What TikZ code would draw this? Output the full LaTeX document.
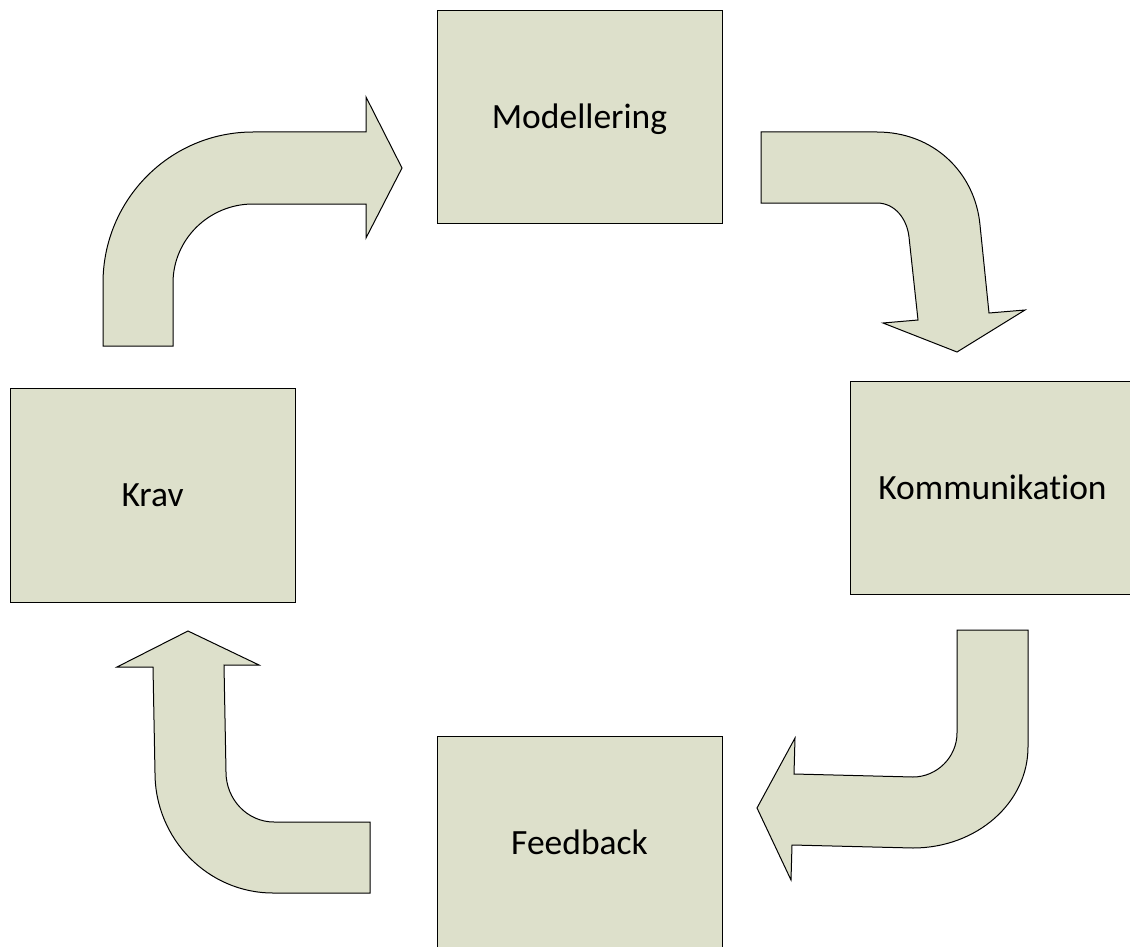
\documentclass[tikz,border=0pt]{standalone}
\usepackage{fontspec}
\setmainfont{Carlito}[Ligatures=NoCommon]
\definecolor{panel}{RGB}{221,224,203}
\begin{document}
\begin{tikzpicture}[x=1pt,y=-1pt,
  box/.style={draw=black, line width=1pt, fill=panel, inner sep=0pt,
              minimum width=285pt, text height=23pt, text depth=0pt,
              font=\fontsize{35.5}{42}\selectfont},
  blockarrow/.style={draw=black, line width=1pt, fill=panel, line join=miter}]
\clip (0,0) rectangle (1130,947);
\fill[white] (0,0) rectangle (1130,947);

% the four stages
\node[box, minimum height=212pt] (mod)  at (579.5,117) {Modellering};
\node[box, minimum height=213pt] (kom)  at (992.5,488) {Kommunikation};
\node[box, minimum height=214pt] (krav) at (152.5,495) {Krav};
\node[box, minimum height=214pt] (feed) at (579.5,843) {Feedback};

% Krav -> Modellering
\path[blockarrow] (103,346) -- (103,283)
  .. controls (103,199.6) and (170,132) .. (253,132)
  -- (366,132) -- (366,97) -- (402,168) -- (366,238) -- (366,204)
  -- (253,204) .. controls (209,204) and (173,239.4) .. (173,283)
  -- (173,346) -- cycle;

% Modellering -> Kommunikation
\path[blockarrow] (761,132) -- (877,132)
  .. controls (933,132) and (975,172) .. (980,225)
  -- (989,313) -- (1025,310) -- (957,352) -- (883,323) -- (918,320)
  -- (909,237) .. controls (907,219) and (895,203) .. (877,203)
  -- (761,203) -- cycle;

% Kommunikation -> Feedback
\path[blockarrow] (957,630) -- (1028,630) -- (1028,747)
  .. controls (1028,803) and (976.5,848) .. (913,848)
  -- (792,845) -- (791,880) -- (757,808) -- (795,738) -- (794,774)
  -- (913,777) .. controls (937,777) and (957,757) .. (957,733)
  -- cycle;

% Feedback -> Krav
\path[blockarrow] (188,631) -- (259,665) -- (224,665) -- (226,772)
  .. controls (226,799.6) and (247.5,822) .. (274,822)
  -- (370,822) -- (370,893) -- (273,893)
  .. controls (208,893) and (155,839) .. (155,773)
  -- (153,667) -- (117,667) -- cycle;
\end{tikzpicture}
\end{document}
